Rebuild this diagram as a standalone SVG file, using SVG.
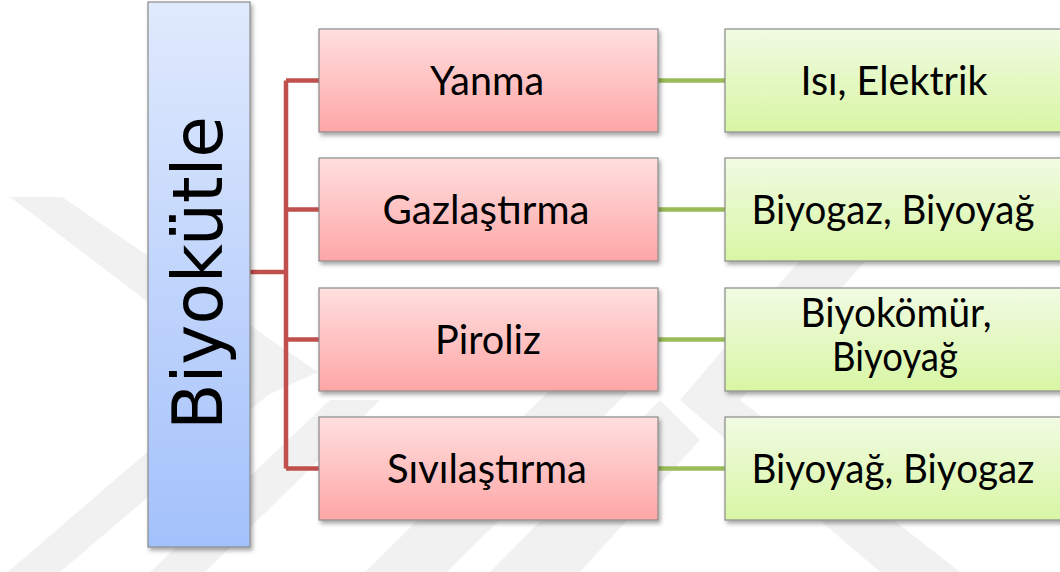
<svg xmlns="http://www.w3.org/2000/svg" width="1060" height="572" viewBox="0 0 1060 572">
  <defs>
    <linearGradient id="gBlue" x1="0" y1="0" x2="0" y2="1">
      <stop offset="0" stop-color="#e0eafd"/>
      <stop offset="1" stop-color="#a3c1fb"/>
    </linearGradient>
    <linearGradient id="gRed" x1="0" y1="0" x2="0" y2="1">
      <stop offset="0" stop-color="#ffdfdf"/>
      <stop offset="1" stop-color="#fea6a6"/>
    </linearGradient>
    <linearGradient id="gGreen" x1="0" y1="0" x2="0" y2="1">
      <stop offset="0" stop-color="#f1fbe3"/>
      <stop offset="1" stop-color="#d8f6a4"/>
    </linearGradient>
    <filter id="shadow" x="-10%" y="-10%" width="130%" height="130%">
      <feDropShadow dx="2" dy="3" stdDeviation="2" flood-color="#000" flood-opacity="0.35"/>
    </filter>
  </defs>
  <style>
    .box { stroke: #8a8a8a; stroke-width: 1.2; filter: url(#shadow); }
    .blue { fill: url(#gBlue); }
    .red { fill: url(#gRed); }
    .green { fill: url(#gGreen); }
    .lbl { font-family: Lato, "Open Sans", "Liberation Sans", sans-serif; font-size: 40px; fill: #000; text-anchor: middle; }
    .title { font-family: "DejaVu Sans", Verdana, sans-serif; font-size: 70px; fill: #000; text-anchor: middle; }
    .redline { stroke: #c0504d; stroke-width: 4.5; fill: none; }
    .greenline { stroke: #9bbb59; stroke-width: 4.5; fill: none; }
    .wm { fill: #f1f1f1; }
  </style>

  <rect width="1060" height="572" fill="#ffffff"/>

  <!-- faint background chevrons -->
  <g id="watermark" class="wm">
    <polygon points="10,197 62,197 318,372 268,395 60,572 8,572 240,372"/>
    <polygon points="150,572 205,572 380,400 330,400"/>
    <polygon points="365,572 447,572 640,380 560,380"/>
    <polygon points="490,572 580,572 700,440 660,400"/>
    <polygon points="860,190 930,190 740,400 960,572 880,572 680,400"/>
  </g>

  <!-- connectors -->
  <g id="connectors">
    <path class="redline" d="M250,272 H286 M286,80.5 V468.5 M286,80.5 H319 M286,209.5 H319 M286,339.5 H319 M286,468.5 H319"/>
    <path class="greenline" d="M658,80.5 H725 M658,209.5 H725 M658,339.5 H725 M658,468.5 H725"/>
  </g>

  <!-- root node -->
  <g id="biyokutle">
    <rect class="box blue" x="148" y="2" width="102" height="545"/>
    <text class="title" transform="translate(222,273) rotate(-90)" textLength="314" lengthAdjust="spacingAndGlyphs">Biyokütle</text>
  </g>

  <!-- processes -->
  <g id="yanma">
    <rect class="box red" x="319" y="29" width="339" height="103"/>
    <text class="lbl" x="487" y="94.5" textLength="114" lengthAdjust="spacingAndGlyphs">Yanma</text>
  </g>
  <g id="gazlastirma">
    <rect class="box red" x="319" y="158" width="339" height="103"/>
    <text class="lbl" x="486" y="223.5" textLength="207" lengthAdjust="spacingAndGlyphs">Gazlaştırma</text>
  </g>
  <g id="piroliz">
    <rect class="box red" x="319" y="288" width="339" height="103"/>
    <text class="lbl" x="488" y="353.5" textLength="106" lengthAdjust="spacingAndGlyphs">Piroliz</text>
  </g>
  <g id="sivilastirma">
    <rect class="box red" x="319" y="417" width="339" height="103"/>
    <text class="lbl" x="487" y="482.5" textLength="200" lengthAdjust="spacingAndGlyphs">Sıvılaştırma</text>
  </g>

  <!-- products -->
  <g id="isi-elektrik">
    <rect class="box green" x="725" y="29" width="345" height="103"/>
    <text class="lbl" x="894" y="94.5" textLength="187" lengthAdjust="spacingAndGlyphs">Isı, Elektrik</text>
  </g>
  <g id="biyogaz-biyoyag">
    <rect class="box green" x="725" y="158" width="345" height="103"/>
    <text class="lbl" x="893" y="223.5" textLength="283" lengthAdjust="spacingAndGlyphs">Biyogaz, Biyoyağ</text>
  </g>
  <g id="biyokomur-biyoyag">
    <rect class="box green" x="725" y="288" width="345" height="103"/>
    <text class="lbl" x="896" y="327" textLength="191" lengthAdjust="spacingAndGlyphs">Biyokömür,</text>
    <text class="lbl" x="895" y="371" textLength="126" lengthAdjust="spacingAndGlyphs">Biyoyağ</text>
  </g>
  <g id="biyoyag-biyogaz">
    <rect class="box green" x="725" y="417" width="345" height="103"/>
    <text class="lbl" x="893" y="482.5" textLength="283" lengthAdjust="spacingAndGlyphs">Biyoyağ, Biyogaz</text>
  </g>
</svg>
